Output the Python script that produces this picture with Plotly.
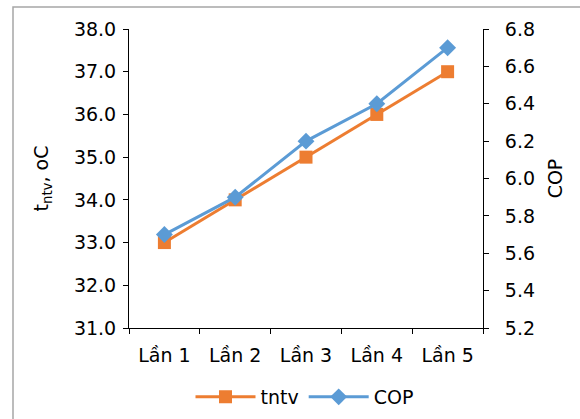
import plotly.graph_objects as go

categories = ["Lần 1", "Lần 2", "Lần 3", "Lần 4", "Lần 5"]
tntv = [33.0, 34.0, 35.0, 36.0, 37.0]
cop = [5.7, 5.9, 6.2, 6.4, 6.7]

orange = "#ED7D31"
blue = "#5B9BD5"
font = "DejaVu Sans"
fs = 19

fig = go.Figure()
fig.add_trace(go.Scatter(x=categories, y=tntv, name="tntv", mode="lines+markers",
                         line=dict(color=orange, width=3),
                         marker=dict(symbol="square", size=13, color=orange)))
fig.add_trace(go.Scatter(x=categories, y=cop, name="COP", mode="lines+markers", yaxis="y2",
                         line=dict(color=blue, width=3),
                         marker=dict(symbol="diamond", size=13, color=blue)))

L, R, T, B = 129, 97, 29, 91
W, H = 580, 419
pw, ph = W - L - R, H - T - B

fig.update_layout(
    width=W, height=H,
    margin=dict(l=L, r=R, t=T, b=B, autoexpand=False),
    paper_bgcolor="white", plot_bgcolor="white",
    font=dict(family=font, size=fs, color="black"),
    showlegend=True,
    legend=dict(orientation="h", x=0.525, xanchor="center", xref="container",
                y=(H - 397) / H, yanchor="middle", yref="container",
                font=dict(family=font, size=fs), itemwidth=60, bgcolor="rgba(0,0,0,0)"),
    xaxis=dict(type="category", tickson="boundaries", ticks="outside", ticklen=5,
               tickcolor="black", showline=True, linecolor="black", linewidth=1,
               showgrid=False, zeroline=False, range=[-0.5, 4.5], automargin=False,
               ticklabelstandoff=10,
               tickfont=dict(family=font, size=fs)),
    yaxis=dict(range=[31, 38], dtick=1, tickformat=".1f", ticks="outside", ticklen=5,
               tickcolor="black", showline=True, linecolor="black", linewidth=1,
               showgrid=False, zeroline=False, tickfont=dict(family=font, size=fs),
               automargin=False, ticklabelstandoff=3,
               title=dict(text="t<sub>ntv</sub>, oC", font=dict(family=font, size=fs), standoff=20)),
    yaxis2=dict(range=[5.2, 6.8], dtick=0.2, tickformat=".1f", ticks="outside", ticklen=5,
                tickcolor="black", showline=True, linecolor="black", linewidth=1,
                showgrid=False, zeroline=False, overlaying="y", side="right",
                tickfont=dict(family=font, size=fs), automargin=False,
                ticklabelstandoff=12,
                title=dict(text="COP", font=dict(family=font, size=fs), standoff=14)),
    shapes=[dict(type="rect", xref="paper", yref="paper",
                 x0=(13 - L) / pw, x1=(W + 20 - L) / pw,
                 y0=(H - B - (H + 20)) / ph, y1=(H - B - 7) / ph,
                 line=dict(color="#A6A6A6", width=1.5), fillcolor="rgba(0,0,0,0)",
                 layer="below")],
)

fig.write_html("out.html")
